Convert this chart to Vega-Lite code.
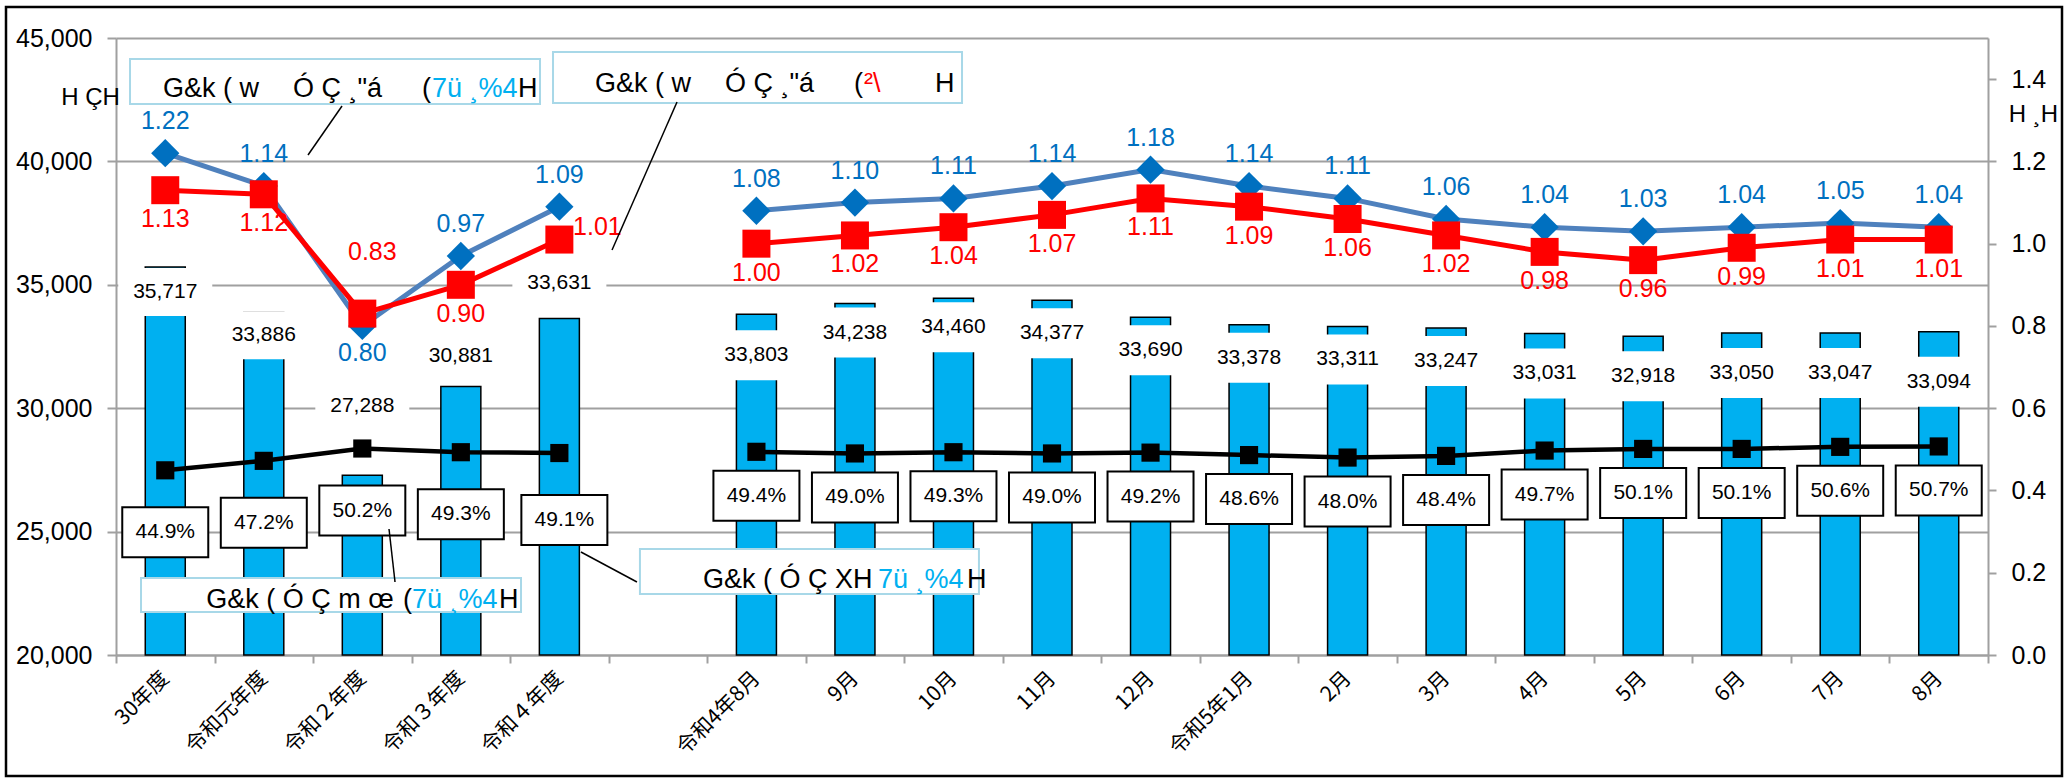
{
"$schema": "https://vega.github.io/schema/vega-lite/v6.json",
"width": 1872, "height": 617,
"autosize": {"type": "none"},
"padding": {"left": 116, "top": 38, "right": 81, "bottom": 125},
"background": "white",
"config": {"view": {"stroke": null}, "font": "Liberation Sans"},
"data": {"values": [
{"c":"30年度","g":"Y","n":35717,"b":1.22,"r":1.13,"p":0.449},
{"c":"令和元年度","g":"Y","n":33886,"b":1.14,"r":1.12,"p":0.472},
{"c":"令和２年度","g":"Y","n":27288,"b":0.80,"r":0.83,"p":0.502},
{"c":"令和３年度","g":"Y","n":30881,"b":0.97,"r":0.90,"p":0.493},
{"c":"令和４年度","g":"Y","n":33631,"b":1.09,"r":1.01,"p":0.491},
{"c":"令和4年8月","g":"M","n":33803,"b":1.08,"r":1.00,"p":0.494},
{"c":"9月","g":"M","n":34238,"b":1.10,"r":1.02,"p":0.490},
{"c":"10月","g":"M","n":34460,"b":1.11,"r":1.04,"p":0.493},
{"c":"11月","g":"M","n":34377,"b":1.14,"r":1.07,"p":0.490},
{"c":"12月","g":"M","n":33690,"b":1.18,"r":1.11,"p":0.492},
{"c":"令和5年1月","g":"M","n":33378,"b":1.14,"r":1.09,"p":0.486},
{"c":"2月","g":"M","n":33311,"b":1.11,"r":1.06,"p":0.480},
{"c":"3月","g":"M","n":33247,"b":1.06,"r":1.02,"p":0.484},
{"c":"4月","g":"M","n":33031,"b":1.04,"r":0.98,"p":0.497},
{"c":"5月","g":"M","n":32918,"b":1.03,"r":0.96,"p":0.501},
{"c":"6月","g":"M","n":33050,"b":1.04,"r":0.99,"p":0.501},
{"c":"7月","g":"M","n":33047,"b":1.05,"r":1.01,"p":0.506},
{"c":"8月","g":"M","n":33094,"b":1.04,"r":1.01,"p":0.507}
]},
"encoding": {"x": {"field": "c", "type": "nominal",
  "scale": {"type": "band", "domain": ["30年度","令和元年度","令和２年度","令和３年度","令和４年度"," ","令和4年8月","9月","10月","11月","12月","令和5年1月","2月","3月","4月","5月","6月","7月","8月"], "paddingInner": 0, "paddingOuter": 0},
  "axis": {"title": null, "labelAngle": -45, "labelAlign": "right", "labelBaseline": "middle", "labelFont": "Noto Sans CJK JP", "labelFontSize": 21, "labelColor": "#000", "labelPadding": 12, "tickBand": "extent", "tickSize": 8, "tickColor": "#A0A0A0", "tickWidth": 2, "domainColor": "#A0A0A0", "domainWidth": 2, "grid": false}}},
"layer": [
 {
  "encoding": {"y": {"field": "n", "type": "quantitative", "scale": {"domain": [20000, 45000], "zero": false, "nice": false},
    "axis": {"title": "H  ÇH", "titleAngle": 0, "titleX": -26, "titleY": 59, "titleAlign": "center", "titleBaseline": "middle", "titleFontSize": 24, "titleFontWeight": "normal", "titleColor": "#000", "values": [20000,25000,30000,35000,40000,45000], "format": ",.0f", "labelFontSize": 25, "labelColor": "#000", "labelPadding": 15, "tickSize": 9, "tickColor": "#A0A0A0", "tickWidth": 2, "domainColor": "#A0A0A0", "domainWidth": 2, "grid": true, "gridColor": "#A0A0A0", "gridWidth": 2}}},
  "layer": [
   {"mark": {"type": "bar", "width": {"band": 0.406}, "color": "#00B0F0", "stroke": "#000", "strokeWidth": 1.5}, "encoding": {"y2": {"datum": 20000}}},
   {"transform": [{"filter": "datum.c === '30年度'"}], "layer": [
     {"mark": {"type": "point", "shape": "M-47,-24H47V24H-47Z", "size": 4, "filled": true, "fill": "white", "strokeWidth": 0, "opacity": 1, "yOffset": 25}},
     {"mark": {"type": "text", "fontSize": 21, "dy": 25, "color": "#000"}, "encoding": {"text": {"field": "n", "type": "quantitative", "format": ","}}}]},
   {"transform": [{"filter": "datum.c === '令和元年度'"}], "layer": [
     {"mark": {"type": "point", "shape": "M-47,-24H47V24H-47Z", "size": 4, "filled": true, "fill": "white", "strokeWidth": 0, "opacity": 1, "yOffset": 23}},
     {"mark": {"type": "text", "fontSize": 21, "dy": 23, "color": "#000"}, "encoding": {"text": {"field": "n", "type": "quantitative", "format": ","}}}]},
   {"transform": [{"filter": "datum.c === '令和２年度'"}], "layer": [
     {"mark": {"type": "point", "shape": "M-47,-24H47V24H-47Z", "size": 4, "filled": true, "fill": "white", "strokeWidth": 0, "opacity": 1, "yOffset": -69}},
     {"mark": {"type": "text", "fontSize": 21, "dy": -69, "color": "#000"}, "encoding": {"text": {"field": "n", "type": "quantitative", "format": ","}}}]},
   {"transform": [{"filter": "datum.c === '令和３年度'"}], "layer": [
     {"mark": {"type": "point", "shape": "M-47,-24H47V24H-47Z", "size": 4, "filled": true, "fill": "white", "strokeWidth": 0, "opacity": 1, "yOffset": -30}},
     {"mark": {"type": "text", "fontSize": 21, "dy": -30, "color": "#000"}, "encoding": {"text": {"field": "n", "type": "quantitative", "format": ","}}}]},
   {"transform": [{"filter": "datum.c === '令和４年度'"}], "layer": [
     {"mark": {"type": "point", "shape": "M-47,-24H47V24H-47Z", "size": 4, "filled": true, "fill": "white", "strokeWidth": 0, "opacity": 1, "yOffset": -36}},
     {"mark": {"type": "text", "fontSize": 21, "dy": -36, "color": "#000"}, "encoding": {"text": {"field": "n", "type": "quantitative", "format": ","}}}]},
   {"transform": [{"filter": "datum.c === '令和4年8月'"}], "layer": [
     {"mark": {"type": "point", "shape": "M-47,-25H47V25H-47Z", "size": 4, "filled": true, "fill": "white", "strokeWidth": 0, "opacity": 1, "yOffset": 41}},
     {"mark": {"type": "text", "fontSize": 21, "dy": 41, "color": "#000"}, "encoding": {"text": {"field": "n", "type": "quantitative", "format": ","}}}]},
   {"transform": [{"filter": "indexof(['9月','10月'], datum.c) >= 0"}], "layer": [
     {"mark": {"type": "point", "shape": "M-47,-25H47V25H-47Z", "size": 4, "filled": true, "fill": "white", "strokeWidth": 0, "opacity": 1, "yOffset": 29}},
     {"mark": {"type": "text", "fontSize": 21, "dy": 29, "color": "#000"}, "encoding": {"text": {"field": "n", "type": "quantitative", "format": ","}}}]},
   {"transform": [{"filter": "indexof(['11月','12月','令和5年1月','2月','3月'], datum.c) >= 0"}], "layer": [
     {"mark": {"type": "point", "shape": "M-47,-25H47V25H-47Z", "size": 4, "filled": true, "fill": "white", "strokeWidth": 0, "opacity": 1, "yOffset": 33}},
     {"mark": {"type": "text", "fontSize": 21, "dy": 33, "color": "#000"}, "encoding": {"text": {"field": "n", "type": "quantitative", "format": ","}}}]},
   {"transform": [{"filter": "indexof(['4月','5月','6月','7月'], datum.c) >= 0"}], "layer": [
     {"mark": {"type": "point", "shape": "M-47,-25H47V25H-47Z", "size": 4, "filled": true, "fill": "white", "strokeWidth": 0, "opacity": 1, "yOffset": 40}},
     {"mark": {"type": "text", "fontSize": 21, "dy": 40, "color": "#000"}, "encoding": {"text": {"field": "n", "type": "quantitative", "format": ","}}}]},
   {"transform": [{"filter": "datum.c === '8月'"}], "layer": [
     {"mark": {"type": "point", "shape": "M-47,-25H47V25H-47Z", "size": 4, "filled": true, "fill": "white", "strokeWidth": 0, "opacity": 1, "yOffset": 50}},
     {"mark": {"type": "text", "fontSize": 21, "dy": 50, "color": "#000"}, "encoding": {"text": {"field": "n", "type": "quantitative", "format": ","}}}]}
  ]
 },
 {
  "layer": [
   {"mark": {"type": "line", "color": "#000", "strokeWidth": 4.5},
    "encoding": {"y": {"field": "p", "type": "quantitative", "scale": {"domain": [0, 1.5], "zero": false, "nice": false},
      "axis": {"orient": "right", "title": "H  ¸H", "titleAngle": 0, "titleX": 45, "titleY": 76, "titleAlign": "center", "titleBaseline": "middle", "titleFontSize": 24, "titleFontWeight": "normal", "titleColor": "#000", "values": [0,0.2,0.4,0.6,0.8,1.0,1.2,1.4], "format": ".1f", "labelFontSize": 25, "labelColor": "#000", "labelPadding": 15, "tickSize": 8, "tickColor": "#A0A0A0", "tickWidth": 2, "domainColor": "#A0A0A0", "domainWidth": 2, "grid": false}},
     "detail": {"field": "g"}}},
   {"mark": {"type": "point", "shape": "square", "size": 330, "filled": true, "color": "#000", "opacity": 1},
    "encoding": {"y": {"field": "p", "type": "quantitative", "scale": {"domain": [0, 1.5], "zero": false, "nice": false}}}},
   {"mark": {"type": "line", "color": "#4F81BD", "strokeWidth": 5},
    "encoding": {"y": {"field": "b", "type": "quantitative", "scale": {"domain": [0, 1.5], "zero": false, "nice": false}}, "detail": {"field": "g"}}},
   {"mark": {"type": "point", "shape": "diamond", "size": 800, "filled": true, "color": "#0070C0", "opacity": 1},
    "encoding": {"y": {"field": "b", "type": "quantitative", "scale": {"domain": [0, 1.5], "zero": false, "nice": false}}}},
   {"mark": {"type": "line", "color": "#FF0000", "strokeWidth": 5},
    "encoding": {"y": {"field": "r", "type": "quantitative", "scale": {"domain": [0, 1.5], "zero": false, "nice": false}}, "detail": {"field": "g"}}},
   {"mark": {"type": "point", "shape": "square", "size": 784, "filled": true, "color": "#FF0000", "opacity": 1},
    "encoding": {"y": {"field": "r", "type": "quantitative", "scale": {"domain": [0, 1.5], "zero": false, "nice": false}}}},

   {"transform": [{"filter": "datum.g === 'Y' && datum.c !== '令和４年度'"}], "encoding": {"y": {"field": "p", "type": "quantitative", "scale": {"domain": [0, 1.5], "zero": false, "nice": false}}}, "layer": [
     {"mark": {"type": "point", "shape": "M-43,-25H43V25H-43Z", "size": 4, "filled": false, "fill": "white", "fillOpacity": 1, "stroke": "#000", "strokeWidth": 2, "opacity": 1, "yOffset": 62}},
     {"mark": {"type": "text", "fontSize": 21, "dy": 62, "color": "#000"}, "encoding": {"text": {"field": "p", "type": "quantitative", "format": ".1%"}}}]},
   {"transform": [{"filter": "datum.c === '令和４年度'"}], "encoding": {"y": {"field": "p", "type": "quantitative", "scale": {"domain": [0, 1.5], "zero": false, "nice": false}}}, "layer": [
     {"mark": {"type": "point", "shape": "M-43,-25H43V25H-43Z", "size": 4, "filled": false, "fill": "white", "fillOpacity": 1, "stroke": "#000", "strokeWidth": 2, "opacity": 1, "yOffset": 67, "xOffset": 5}},
     {"mark": {"type": "text", "fontSize": 21, "dy": 67, "dx": 5, "color": "#000"}, "encoding": {"text": {"field": "p", "type": "quantitative", "format": ".1%"}}}]},
   {"transform": [{"filter": "datum.g === 'M'"}], "encoding": {"y": {"field": "p", "type": "quantitative", "scale": {"domain": [0, 1.5], "zero": false, "nice": false}}}, "layer": [
     {"mark": {"type": "point", "shape": "M-43,-25H43V25H-43Z", "size": 4, "filled": false, "fill": "white", "fillOpacity": 1, "stroke": "#000", "strokeWidth": 2, "opacity": 1, "yOffset": 44}},
     {"mark": {"type": "text", "fontSize": 21, "dy": 44, "color": "#000"}, "encoding": {"text": {"field": "p", "type": "quantitative", "format": ".1%"}}}]},

   {"transform": [{"filter": "datum.c !== '令和２年度'"}], "mark": {"type": "text", "fontSize": 25, "dy": -32, "color": "#0070C0"},
    "encoding": {"y": {"field": "b", "type": "quantitative", "scale": {"domain": [0, 1.5], "zero": false, "nice": false}}, "text": {"field": "b", "type": "quantitative", "format": ".2f"}}},
   {"transform": [{"filter": "datum.c === '令和２年度'"}], "mark": {"type": "text", "fontSize": 25, "dy": 27, "color": "#0070C0"},
    "encoding": {"y": {"field": "b", "type": "quantitative", "scale": {"domain": [0, 1.5], "zero": false, "nice": false}}, "text": {"field": "b", "type": "quantitative", "format": ".2f"}}},
   {"transform": [{"filter": "datum.c !== '令和２年度' && datum.c !== '令和４年度'"}], "mark": {"type": "text", "fontSize": 25, "dy": 29, "color": "#FF0000"},
    "encoding": {"y": {"field": "r", "type": "quantitative", "scale": {"domain": [0, 1.5], "zero": false, "nice": false}}, "text": {"field": "r", "type": "quantitative", "format": ".2f"}}},
   {"transform": [{"filter": "datum.c === '令和２年度'"}], "mark": {"type": "text", "fontSize": 25, "dy": -62, "dx": 10, "color": "#FF0000"},
    "encoding": {"y": {"field": "r", "type": "quantitative", "scale": {"domain": [0, 1.5], "zero": false, "nice": false}}, "text": {"field": "r", "type": "quantitative", "format": ".2f"}}},
   {"transform": [{"filter": "datum.c === '令和４年度'"}], "mark": {"type": "text", "fontSize": 25, "dy": -13, "dx": 38, "color": "#FF0000"},
    "encoding": {"y": {"field": "r", "type": "quantitative", "scale": {"domain": [0, 1.5], "zero": false, "nice": false}}, "text": {"field": "r", "type": "quantitative", "format": ".2f"}}},

   {"data": {"values": [{}]},
    "encoding": {"x": {"datum": "令和２年度", "type": "nominal"}, "y": {"datum": 1.39424, "type": "quantitative", "scale": {"domain": [0, 1.5], "zero": false, "nice": false}}},
    "layer": [
     {"mark": {"type": "point", "shape": "M-205,-22.5H205V22.5H-205Z", "size": 4, "filled": false, "fill": "white", "fillOpacity": 1, "stroke": "#A8D8E8", "strokeWidth": 2, "opacity": 1, "xOffset": -27.3}},
     {"mark": {"type": "text", "text": "G&k ( w", "fontSize": 27, "align": "left", "baseline": "alphabetic", "dx": -199.3, "dy": 15.5, "color": "#000"}},
     {"mark": {"type": "text", "text": "Ó Ç ¸\"á", "fontSize": 27, "align": "left", "baseline": "alphabetic", "dx": -69.3, "dy": 15.5, "color": "#000"}},
     {"mark": {"type": "text", "text": "(", "fontSize": 27, "align": "left", "baseline": "alphabetic", "dx": 59.7, "dy": 15.5, "color": "#000"}},
     {"mark": {"type": "text", "text": "7ü ¸%4", "fontSize": 27, "align": "left", "baseline": "alphabetic", "dx": 69.7, "dy": 15.5, "color": "#00B0F0"}},
     {"mark": {"type": "text", "text": "H", "fontSize": 27, "align": "left", "baseline": "alphabetic", "dx": 155.7, "dy": 15.5, "color": "#000"}}
    ]},
   {"data": {"values": [{}]}, "mark": {"type": "rule", "color": "#000", "strokeWidth": 1.5, "xOffset": -20.3, "x2Offset": -54.3},
    "encoding": {"x": {"datum": "令和２年度", "type": "nominal"}, "x2": {"datum": "令和２年度"}, "y": {"datum": 1.33468, "type": "quantitative", "scale": {"domain": [0, 1.5], "zero": false, "nice": false}}, "y2": {"datum": 1.21555}}},

   {"data": {"values": [{}]},
    "encoding": {"x": {"datum": "令和4年8月", "type": "nominal"}, "y": {"datum": 1.40396, "type": "quantitative", "scale": {"domain": [0, 1.5], "zero": false, "nice": false}}},
    "layer": [
     {"mark": {"type": "point", "shape": "M-204.5,-25.5H204.5V25.5H-204.5Z", "size": 4, "filled": false, "fill": "white", "fillOpacity": 1, "stroke": "#A8D8E8", "strokeWidth": 2, "opacity": 1, "xOffset": 1.1}},
     {"mark": {"type": "text", "text": "G&k ( w", "fontSize": 27, "align": "left", "baseline": "alphabetic", "dx": -161.4, "dy": 14.5, "color": "#000"}},
     {"mark": {"type": "text", "text": "Ó Ç ¸\"á", "fontSize": 27, "align": "left", "baseline": "alphabetic", "dx": -31.4, "dy": 14.5, "color": "#000"}},
     {"mark": {"type": "text", "text": "(", "fontSize": 27, "align": "left", "baseline": "alphabetic", "dx": 97.6, "dy": 14.5, "color": "#000"}},
     {"mark": {"type": "text", "text": "²\\", "fontSize": 27, "align": "left", "baseline": "alphabetic", "dx": 107.6, "dy": 14.5, "color": "#FF0000"}},
     {"mark": {"type": "text", "text": "H", "fontSize": 27, "align": "left", "baseline": "alphabetic", "dx": 178.6, "dy": 14.5, "color": "#000"}}
    ]},
   {"data": {"values": [{}]}, "mark": {"type": "rule", "color": "#000", "strokeWidth": 1.5, "xOffset": -79.4, "x2Offset": -144.4},
    "encoding": {"x": {"datum": "令和4年8月", "type": "nominal"}, "x2": {"datum": "令和4年8月"}, "y": {"datum": 1.3444, "type": "quantitative", "scale": {"domain": [0, 1.5], "zero": false, "nice": false}}, "y2": {"datum": 0.9846}}},

   {"data": {"values": [{}]},
    "encoding": {"x": {"datum": "令和２年度", "type": "nominal"}, "y": {"datum": 0.14587, "type": "quantitative", "scale": {"domain": [0, 1.5], "zero": false, "nice": false}}},
    "layer": [
     {"mark": {"type": "point", "shape": "M-190,-17H190V17H-190Z", "size": 4, "filled": false, "fill": "white", "fillOpacity": 1, "stroke": "#A8D8E8", "strokeWidth": 2, "opacity": 1, "xOffset": -31.3}},
     {"mark": {"type": "text", "text": "G&k ( Ó Ç m œ", "fontSize": 27, "align": "left", "baseline": "alphabetic", "dx": -156, "dy": 13, "color": "#000"}},
     {"mark": {"type": "text", "text": "(", "fontSize": 27, "align": "left", "baseline": "alphabetic", "dx": 40.7, "dy": 13, "color": "#000"}},
     {"mark": {"type": "text", "text": "7ü ¸%4", "fontSize": 27, "align": "left", "baseline": "alphabetic", "dx": 49.7, "dy": 13, "color": "#00B0F0"}},
     {"mark": {"type": "text", "text": "H", "fontSize": 27, "align": "left", "baseline": "alphabetic", "dx": 136.7, "dy": 13, "color": "#000"}}
    ]},
   {"data": {"values": [{}]}, "mark": {"type": "rule", "color": "#000", "strokeWidth": 1.5, "xOffset": 26.7, "x2Offset": 32.7},
    "encoding": {"x": {"datum": "令和２年度", "type": "nominal"}, "x2": {"datum": "令和２年度"}, "y": {"datum": 0.30632, "type": "quantitative", "scale": {"domain": [0, 1.5], "zero": false, "nice": false}}, "y2": {"datum": 0.17747}}},

   {"data": {"values": [{}]},
    "encoding": {"x": {"datum": "9月", "type": "nominal"}, "y": {"datum": 0.203, "type": "quantitative", "scale": {"domain": [0, 1.5], "zero": false, "nice": false}}},
    "layer": [
     {"mark": {"type": "point", "shape": "M-169.5,-22.5H169.5V22.5H-169.5Z", "size": 4, "filled": false, "fill": "white", "fillOpacity": 1, "stroke": "#A8D8E8", "strokeWidth": 2, "opacity": 1, "xOffset": -45.5}},
     {"mark": {"type": "text", "text": "G&k ( Ó Ç XH", "fontSize": 27, "align": "left", "baseline": "alphabetic", "dx": -152, "dy": 16.5, "color": "#000"}},
     {"mark": {"type": "text", "text": "7ü ¸%4", "fontSize": 27, "align": "left", "baseline": "alphabetic", "dx": 23, "dy": 16.5, "color": "#00B0F0"}},
     {"mark": {"type": "text", "text": "H", "fontSize": 27, "align": "left", "baseline": "alphabetic", "dx": 112, "dy": 16.5, "color": "#000"}}
    ]},
   {"data": {"values": [{}]}, "mark": {"type": "rule", "color": "#000", "strokeWidth": 1.5, "xOffset": -274, "x2Offset": -218},
    "encoding": {"x": {"datum": "9月", "type": "nominal"}, "x2": {"datum": "9月"}, "y": {"datum": 0.2504, "type": "quantitative", "scale": {"domain": [0, 1.5], "zero": false, "nice": false}}, "y2": {"datum": 0.17747}}},

   {"data": {"values": [{}]}, "mark": {"type": "point", "shape": "M-1028,-384.5H1028V384.5H-1028Z", "size": 4, "filled": false, "stroke": "#000", "strokeWidth": 2.5, "opacity": 1, "xOffset": -18},
    "encoding": {"x": {"datum": "11月", "type": "nominal"}, "y": {"datum": 0.6406, "type": "quantitative", "scale": {"domain": [0, 1.5], "zero": false, "nice": false}}}}
  ]
 }
],
"resolve": {"scale": {"y": "independent"}}
}
